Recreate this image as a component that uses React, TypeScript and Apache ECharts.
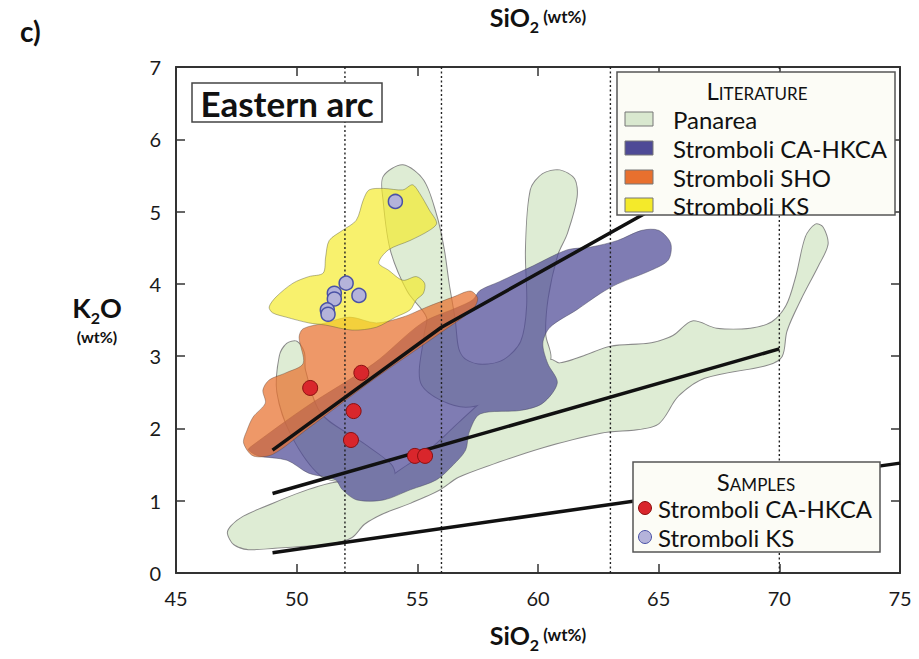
import React, { useEffect, useRef } from 'react';
import * as echarts from 'echarts';

// ---- axis ticks ----
const xRange = [45, 75];
const yRange = [0, 7];
const xStep = 5;
const yStep = 1;
const dottedSiO2 = [52, 56, 63, 70];

// ---- classification boundaries (SiO2, K2O) ----
const boundaryHighK = [[49, 1.7], [56, 3.4], [65, 5.08]];
const boundaryMedK = [[49, 1.1], [70, 3.1]];
const boundaryLowK = [[49, 0.28], [75, 1.52]];

// ---- samples ----
const sampleCA = [[50.56, 2.56], [52.68, 2.77], [52.36, 2.24], [52.25, 1.84], [54.9, 1.62], [55.32, 1.62]];
const sampleKS = [[54.09, 5.14], [52.05, 4.01], [52.58, 3.84], [51.56, 3.87], [51.56, 3.79], [51.27, 3.64], [51.3, 3.58]];

// ---- literature fields ----
const panareaBand = [
  [47.15, 0.55], [47.4, 0.4], [48.0, 0.33], [49.1, 0.35], [50.5, 0.38], [51.6, 0.42], [52.3, 0.5],
  [52.8, 0.68], [53.6, 0.83], [54.7, 0.97], [55.9, 1.15], [56.7, 1.33], [58.2, 1.52], [60.2, 1.74],
  [62.6, 1.94], [64.9, 2.05], [65.8, 2.45], [66.9, 2.7], [69.5, 2.88], [70.1, 3.0], [70.3, 3.35],
  [70.9, 3.8], [71.6, 4.25], [72.0, 4.55], [71.8, 4.78], [71.5, 4.82], [71.1, 4.65], [70.7, 4.1],
  [70.3, 3.7], [69.7, 3.47], [68.8, 3.38], [67.4, 3.38], [66.4, 3.48], [65.6, 3.28], [64.7, 3.18],
  [63.0, 3.13], [61.9, 3.0], [60.9, 2.9], [60.5, 2.95], [59.5, 2.75], [58.0, 2.45], [56.8, 2.1],
  [55.5, 1.7], [54.2, 1.4], [53.6, 1.27], [51.6, 1.25], [50.5, 1.15], [49.1, 0.97], [47.8, 0.78], [47.3, 0.65],
];
const panareaLobe = [
  [49.3, 3.0], [49.6, 3.17], [50.0, 3.2], [50.3, 3.05], [50.35, 2.8], [51.0, 2.2], [52.8, 1.78],
  [53.9, 1.5], [54.05, 1.35], [53.6, 1.25], [52.2, 1.25], [51.0, 1.35], [49.8, 1.9], [49.2, 2.5],
];
const panareaFingers = [
  [53.6, 5.48], [54.4, 5.64], [55.25, 5.43], [55.8, 4.93], [56.1, 4.47], [56.3, 4.0], [56.55, 3.5],
  [56.7, 3.1], [57.0, 2.95], [57.7, 2.88], [58.6, 2.95], [59.3, 3.2], [59.55, 3.7], [59.5, 4.47],
  [59.7, 5.3], [60.2, 5.52], [60.9, 5.57], [61.5, 5.45], [61.6, 5.2], [61.2, 4.7], [60.8, 4.4],
  [60.4, 3.8], [60.3, 3.3], [60.5, 2.95], [59.5, 2.6], [57.0, 2.3], [55.2, 2.6], [55.3, 3.3],
  [55.4, 3.54], [54.6, 3.9], [53.9, 4.47], [53.6, 5.16],
];
const strombCA = [
  [48.0, 1.7], [48.4, 1.62], [49.6, 1.56], [50.5, 1.38], [51.6, 1.29], [51.9, 1.15], [52.5, 1.01],
  [53.6, 1.01], [54.7, 1.15], [55.8, 1.29], [56.5, 1.5], [57.0, 1.7], [57.15, 1.95], [57.6, 2.2],
  [59.3, 2.25], [60.2, 2.35], [60.8, 2.63], [60.4, 2.9], [60.2, 3.18], [60.5, 3.4],
  [61.6, 3.64], [62.6, 3.87], [63.3, 4.0], [64.7, 4.19], [65.4, 4.33], [65.5, 4.56], [65.0, 4.74],
  [64.3, 4.74], [63.3, 4.6], [62.2, 4.51], [61.2, 4.47], [59.8, 4.25], [58.4, 4.03], [57.6, 3.91],
  [57.3, 3.78], [56.7, 3.68], [55.2, 3.46], [53.2, 2.9], [50.4, 2.3], [48.07, 1.74],
];
const strombSHO = [
  [48.2, 1.62], [47.8, 1.8], [47.95, 1.98], [48.2, 2.16], [48.7, 2.35], [48.6, 2.53], [48.86, 2.67],
  [49.56, 2.77], [50.27, 2.9], [50.1, 3.26], [50.27, 3.38], [51.2, 3.46], [52.2, 3.54], [53.3, 3.46],
  [54.4, 3.54], [55.4, 3.68], [56.5, 3.82], [57.2, 3.9], [57.5, 3.8], [57.3, 3.65], [56.0, 3.33],
  [53.2, 2.68], [50.4, 1.98], [49.0, 1.64],
];
const strombKS = [
  [48.86, 3.68], [49.15, 3.82], [49.85, 4.01], [50.5, 4.1], [51.1, 4.15], [51.2, 4.37], [51.35, 4.6],
  [51.9, 4.74], [52.47, 4.88], [52.76, 5.16], [53.0, 5.3], [53.6, 5.32], [54.4, 5.3], [54.8, 5.37],
  [55.1, 5.25], [55.5, 5.02], [55.8, 4.84], [55.5, 4.74], [54.7, 4.6], [53.8, 4.47], [53.4, 4.29],
  [53.8, 4.19], [54.4, 4.05], [54.96, 4.1], [55.3, 4.01], [55.25, 3.87], [54.96, 3.78], [54.7, 3.64],
  [54.1, 3.54], [53.3, 3.4], [52.3, 3.36], [51.2, 3.43], [50.5, 3.46], [49.56, 3.54], [49.0, 3.6],
];

const litNames = ['Panarea', 'Stromboli CA-HKCA', 'Stromboli SHO', 'Stromboli KS'];
const litColors = ['#d9e8cf', '#4e4a96', '#e8702e', '#f4ea2a'];
const sampleNames = ['Stromboli CA-HKCA', 'Stromboli KS'];

const FONT = 'Lato, "Open Sans", sans-serif';

function polySeries(name: string, polys: number[][][], fill: string, stroke: string, lw: number, z: number) {
  return {
    type: 'custom',
    name,
    z,
    silent: true,
    coordinateSystem: 'cartesian2d',
    data: polys.map((p, i) => [p[0][0], p[0][1], i]),
    encode: { x: 0, y: 1 },
    renderItem: (params: any, api: any) => {
      const pts = polys[params.dataIndex].map((pt) => api.coord(pt));
      return {
        type: 'polygon',
        shape: { points: pts, smooth: 0.3 },
        style: { fill, stroke, lineWidth: lw },
      };
    },
  };
}

function lineSeries(data: number[][], width: number, type: any, color: string, z: number) {
  return {
    type: 'line',
    data,
    showSymbol: false,
    silent: true,
    z,
    lineStyle: { width, type, color, cap: 'butt' },
  };
}

const subRich = (big: number) => ({
  b: { fontSize: big, fontWeight: 'bold', fontFamily: FONT, color: '#111', lineHeight: big + 10, verticalAlign: 'middle' },
  s: { fontSize: Math.round(big * 0.62), fontWeight: 'bold', fontFamily: FONT, color: '#111', lineHeight: Math.round(big * 0.62), verticalAlign: 'bottom' },
  u: { fontSize: Math.round(big * 0.66), fontWeight: 'bold', fontFamily: FONT, color: '#111', lineHeight: big + 10, verticalAlign: 'middle' },
});

export default function App() {
  const ref = useRef<HTMLDivElement>(null);
  useEffect(() => {
    document.body.style.margin = '0';
    const chart = echarts.init(ref.current!, undefined, { renderer: 'svg' });
    const axisCommon = {
      type: 'value',
      splitLine: { show: false },
      axisLine: { show: true, onZero: false, lineStyle: { color: '#333', width: 2 } },
      axisTick: { show: true, inside: true, length: 9, lineStyle: { color: '#333', width: 1.5 } },
      nameMoveOverlap: false,
    };
    const litGraphic: any[] = [];
    const litY = [119, 148, 177, 205];
    litNames.forEach((n, i) => {
      litGraphic.push({
        type: 'rect', z: 101,
        shape: { x: 625, y: litY[i] - 7, width: 28, height: 14 },
        style: { fill: litColors[i], stroke: '#777', lineWidth: 1 },
      });
      litGraphic.push({
        type: 'text', z: 101,
        style: { text: n, x: 673, y: litY[i], fill: '#111', font: `24px ${FONT}`, verticalAlign: 'middle', align: 'left' },
      });
    });
    const sampY = [508, 537];
    const sampFill = ['#d9262c', '#b4b3da'];
    const sampStroke = ['#8a1010', '#4a52a6'];
    const sampGraphic: any[] = [];
    sampleNames.forEach((n, i) => {
      sampGraphic.push({
        type: 'circle', z: 101,
        shape: { cx: 645, cy: sampY[i], r: 6.5 },
        style: { fill: sampFill[i], stroke: sampStroke[i], lineWidth: 1 },
      });
      sampGraphic.push({
        type: 'text', z: 101,
        style: { text: n, x: 658, y: sampY[i], fill: '#111', font: `24px ${FONT}`, verticalAlign: 'middle', align: 'left' },
      });
    });

    const option: any = {
      animation: false,
      backgroundColor: '#fff',
      grid: { left: 176, right: 19, top: 67, bottom: 86, containLabel: false, outerBoundsMode: 'none' },
      xAxis: [
        {
          ...axisCommon,
          position: 'bottom',
          min: xRange[0], max: xRange[1], interval: xStep,
          axisLabel: { fontSize: 20, color: '#1a1a1a', fontFamily: FONT, margin: 15 },
          name: '{b|SiO}{s|2}{u| (wt%)}',
          nameLocation: 'middle',
          nameGap: 44,
          nameTextStyle: { rich: subRich(25) },
        },
        {
          ...axisCommon,
          position: 'top',
          min: xRange[0], max: xRange[1], interval: xStep,
          axisLabel: { show: false },
          name: '{b|SiO}{s|2}{u| (wt%)}',
          nameLocation: 'middle',
          nameGap: 33,
          nameTextStyle: { rich: subRich(25) },
        },
      ],
      yAxis: [
        {
          ...axisCommon,
          position: 'left',
          min: yRange[0], max: yRange[1], interval: yStep,
          axisLabel: { fontSize: 20, color: '#1a1a1a', fontFamily: FONT, margin: 15 },
        },
        {
          ...axisCommon,
          position: 'right',
          min: yRange[0], max: yRange[1], interval: yStep,
          axisLabel: { show: false },
        },
      ],
      series: [
        polySeries('Panarea', [panareaBand, panareaLobe, panareaFingers], '#deecd4', '#8a8a8a', 2, 1),
        polySeries('Panarea', [panareaBand, panareaLobe, panareaFingers], '#deecd4', 'none', 0, 1),
        polySeries('Stromboli CA-HKCA', [strombCA], 'rgba(78,74,150,0.72)', 'rgba(70,70,90,0.6)', 0.8, 2),
        polySeries('Stromboli SHO', [strombSHO], 'rgba(232,112,46,0.72)', 'rgba(90,70,60,0.5)', 0.8, 2),
        polySeries('Stromboli KS', [strombKS], 'rgba(245,235,40,0.68)', 'rgba(90,90,60,0.55)', 0.8, 2),
        ...dottedSiO2.map((x) => lineSeries([[x, yRange[0]], [x, yRange[1]]], 1.4, [2, 2.5], '#222', 4)),
        lineSeries(boundaryHighK, 3.5, 'solid', '#111', 5),
        lineSeries(boundaryMedK, 3.5, 'solid', '#111', 5),
        lineSeries(boundaryLowK, 3.5, 'solid', '#111', 5),
        {
          type: 'scatter', name: 'Stromboli CA-HKCA', data: sampleCA, symbolSize: 15, z: 10, silent: true,
          itemStyle: { color: '#d9262c', borderColor: '#8a1010', borderWidth: 1, opacity: 1 },
        },
        {
          type: 'scatter', name: 'Stromboli KS', data: sampleKS, symbolSize: 14, z: 10, silent: true,
          itemStyle: { color: '#b4b3da', borderColor: '#4a52a6', borderWidth: 1.5, opacity: 1 },
        },
      ],
      graphic: [
        {
          type: 'text', z: 100,
          style: { text: 'c)', x: 20, y: 31, fill: '#111', font: `bold 28px ${FONT}`, verticalAlign: 'middle', align: 'left' },
        },
        {
          type: 'text', z: 100,
          style: {
            text: '{b|K}{s|2}{b|O}\n{u|(wt%)}', x: 97, y: 318, align: 'center', verticalAlign: 'middle',
            rich: {
              b: { fontSize: 27, fontWeight: 'bold', fontFamily: FONT, fill: '#111', lineHeight: 36, verticalAlign: 'middle' },
              s: { fontSize: 16, fontWeight: 'bold', fontFamily: FONT, fill: '#111', lineHeight: 16, verticalAlign: 'bottom' },
              u: { fontSize: 16, fontWeight: 'bold', fontFamily: FONT, fill: '#111', lineHeight: 22 },
            },
          },
        },
        {
          type: 'rect', z: 100,
          shape: { x: 192, y: 83, width: 190, height: 39 },
          style: { fill: '#fff', stroke: '#444', lineWidth: 1.5 },
        },
        {
          type: 'text', z: 101,
          style: { text: 'Eastern arc', x: 287, y: 103, fill: '#111', font: `bold 35px ${FONT}`, verticalAlign: 'middle', align: 'center' },
        },
        {
          type: 'rect', z: 100,
          shape: { x: 617, y: 72, width: 278, height: 143 },
          style: { fill: '#fcfcf6', stroke: '#555', lineWidth: 1.5 },
        },
        {
          type: 'text', z: 101,
          style: {
            text: '{L|L}{l|ITERATURE}', x: 757, y: 90, align: 'center', verticalAlign: 'middle',
            rich: {
              L: { fontSize: 24, fontFamily: FONT, fill: '#111', lineHeight: 24, verticalAlign: 'bottom' },
              l: { fontSize: 17, fontFamily: FONT, fill: '#111', lineHeight: 17, verticalAlign: 'bottom' },
            },
          },
        },
        ...litGraphic,
        {
          type: 'rect', z: 100,
          shape: { x: 633, y: 462, width: 247, height: 90 },
          style: { fill: '#fcfcf6', stroke: '#555', lineWidth: 1.5 },
        },
        {
          type: 'text', z: 101,
          style: {
            text: '{L|S}{l|AMPLES}', x: 756, y: 481, align: 'center', verticalAlign: 'middle',
            rich: {
              L: { fontSize: 24, fontFamily: FONT, fill: '#111', lineHeight: 24, verticalAlign: 'bottom' },
              l: { fontSize: 17, fontFamily: FONT, fill: '#111', lineHeight: 17, verticalAlign: 'bottom' },
            },
          },
        },
        ...sampGraphic,
      ],
    };
    chart.setOption(option);
    return () => chart.dispose();
  }, []);
  return <div ref={ref} style={{ width: 919, height: 659 }} />;
}
